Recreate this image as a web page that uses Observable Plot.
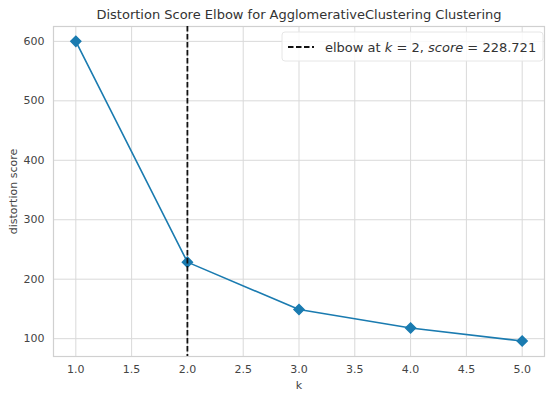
<!DOCTYPE html>
<html>
<head>
<meta charset="utf-8">
<script src="https://cdn.jsdelivr.net/npm/d3@7"></script>
<script src="https://cdn.jsdelivr.net/npm/@observablehq/plot@0.6"></script>
<style>
  html, body { margin: 0; padding: 0; background: #ffffff; }
  #chart { width: 555px; height: 398px; }
  svg { font-family: "DejaVu Sans", sans-serif; }
</style>
</head>
<body>
<div id="chart"></div>
<script>
const kValues = [1, 2, 3, 4, 5];
const scores = [600, 228.721, 149, 118, 96];
const elbowK = 2;
const elbowScore = 228.721;
const xTicks = [1.0, 1.5, 2.0, 2.5, 3.0, 3.5, 4.0, 4.5, 5.0];
const yTicks = [100, 200, 300, 400, 500, 600];
const titleText = "Distortion Score Elbow for AgglomerativeClustering Clustering";

const data = kValues.map((k, i) => ({k, score: scores[i]}));
const lineColor = "#1a7bb0";

const chart = Plot.plot({
  width: 555,
  height: 398,
  marginLeft: 53,
  marginRight: 11,
  marginTop: 26,
  marginBottom: 42,
  style: {background: "#ffffff", fontSize: "11px", color: "#444", fontFamily: "DejaVu Sans, sans-serif"},
  x: {domain: [0.8, 5.2], ticks: xTicks, tickFormat: d3.format(".1f"), label: "k", labelAnchor: "center", labelArrow: "none", labelOffset: 32},
  y: {domain: [70, 625], ticks: yTicks, label: "distortion score", labelAnchor: "center", labelArrow: "none", labelOffset: 44},
  marks: [
    Plot.gridX(xTicks, {stroke: "#d9d9d9", strokeOpacity: 1, strokeWidth: 1}),
    Plot.gridY(yTicks, {stroke: "#d9d9d9", strokeOpacity: 1, strokeWidth: 1}),
    Plot.frame({stroke: "#d0d0d0", strokeWidth: 1.2}),
    Plot.axisX(xTicks, {tickSize: 0, tickPadding: 9, tickFormat: d3.format(".1f"), fill: "#444", label: "k", labelAnchor: "center", labelArrow: "none", labelOffset: 32}),
    Plot.axisY(yTicks, {tickSize: 0, tickPadding: 9, fill: "#444", label: "distortion score", labelAnchor: "center", labelArrow: "none", labelOffset: 44}),
    Plot.line(data, {x: "k", y: "score", stroke: lineColor, strokeWidth: 1.6}),
    Plot.dot(data, {x: "k", y: "score", symbol: "diamond2", r: 4.5, fill: lineColor, stroke: lineColor}),
    Plot.ruleX([elbowK], {stroke: "#111", strokeWidth: 1.8, strokeDasharray: "5.5,2.5"}),
    Plot.text([titleText], {frameAnchor: "top", dy: -17, fontSize: 13, fill: "#333", text: d => d})
  ]
});

document.getElementById("chart").appendChild(chart);

// Legend (matplotlib-style box, upper right)
const svg = d3.select(chart);
const lg = svg.append("g").attr("transform", "translate(282,32)");
lg.append("rect").attr("width", 261).attr("height", 29).attr("rx", 3)
  .attr("fill", "#ffffff").attr("fill-opacity", 0.85).attr("stroke", "#e6e6e6");
lg.append("line").attr("x1", 6).attr("x2", 32).attr("y1", 15).attr("y2", 15)
  .attr("stroke", "#111").attr("stroke-width", 1.8).attr("stroke-dasharray", "5.5,2.5");
const t = lg.append("text").attr("x", 43).attr("y", 19.5).attr("text-anchor", "start")
  .attr("font-size", 13).attr("fill", "#333").attr("font-family", "DejaVu Sans, sans-serif");
t.append("tspan").text("elbow at ");
t.append("tspan").attr("font-style", "italic").text("k");
t.append("tspan").text(` = ${elbowK}, `);
t.append("tspan").attr("font-style", "italic").text("score");
t.append("tspan").text(` = ${elbowScore.toFixed(3)}`);
</script>
</body>
</html>
